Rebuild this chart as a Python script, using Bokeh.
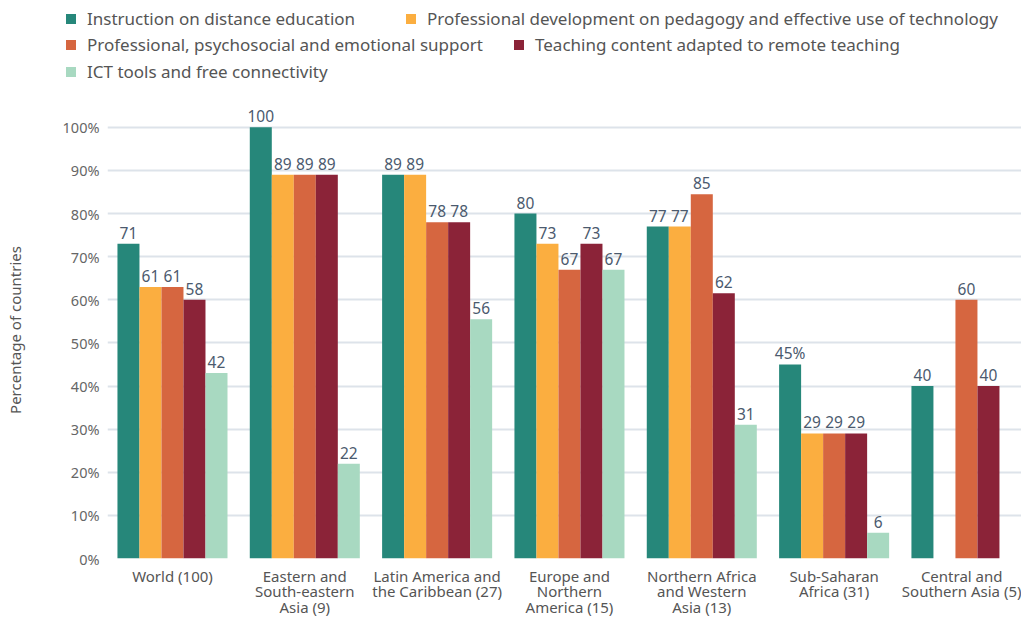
from bokeh.plotting import figure
from bokeh.models import (Range1d, FixedTicker, Legend, LegendItem, ColumnDataSource)
from bokeh.layouts import column
from bokeh.embed import file_html
from bokeh.resources import INLINE
from bokeh.core.properties import value
import numpy as np

# ---------------- data ----------------
regions = ["World (100)", "Eastern and\nSouth-eastern\nAsia (9)", "Latin America and\nthe Caribbean (27)",
           "Europe and\nNorthern\nAmerica (15)", "Northern Africa\nand Western\nAsia (13)",
           "Sub-Saharan\nAfrica (31)", "Central and\nSouthern Asia (5)"]
series_names = ["Instruction on distance education",
                "Professional development on pedagogy and effective use of technology",
                "Professional, psychosocial and emotional support",
                "Teaching content adapted to remote teaching",
                "ICT tools and free connectivity"]
colors = ["#26877a", "#fbae40", "#d66640", "#8b2338", "#a8d9c1"]

# bar heights (percent) as drawn
instruction = [73, 100, 89, 80, 77, 45, 40]
prof_dev = [63, 89, 89, 73, 77, 29, np.nan]
psycho = [63, 89, 78, 67, 84.5, 29, 60]
content = [60, 89, 78, 73, 61.5, 29, 40]
ict = [43, 22, 55.5, 67, 31, 6, np.nan]

# printed data labels
instruction_lbl = ["71", "100", "89", "80", "77", "45%", "40"]
prof_dev_lbl = ["61", "89", "89", "73", "77", "29", ""]
psycho_lbl = ["61", "89", "78", "67", "85", "29", "60"]
content_lbl = ["58", "89", "78", "73", "62", "29", "40"]
ict_lbl = ["42", "22", "56", "67", "31", "6", ""]

y_ticks = [0, 10, 20, 30, 40, 50, 60, 70, 80, 90, 100]
y_tick_labels = [f"{t}%" for t in y_ticks]

values = [instruction, prof_dev, psycho, content, ict]
labels = [instruction_lbl, prof_dev_lbl, psycho_lbl, content_lbl, ict_lbl]

FONT = "Noto Sans"

# ---------------- chart ----------------
p = figure(width=1021, height=518, output_backend="svg", toolbar_location=None,
           x_range=Range1d(-0.491, 6.416), y_range=Range1d(0, 106),
           min_border_left=107, min_border_right=0, min_border_top=0, min_border_bottom=60)
p.outline_line_color = None
p.background_fill_color = "white"
p.border_fill_color = "white"

# ---------------- legend strip ----------------
leg = figure(width=1021, height=101, output_backend="svg", toolbar_location=None,
             x_axis_location=None, y_axis_location=None,
             x_range=Range1d(0, 1), y_range=Range1d(0, 1),
             min_border_left=0, min_border_right=0, min_border_top=0, min_border_bottom=0)
leg.outline_line_color = None
leg.xgrid.visible = False
leg.ygrid.visible = False

x0 = 58
if "frame_align" in leg.properties():
    leg.frame_align = False
    p.frame_align = False
else:
    x0 = 58 - 107

# legend swatches: one (non-plotted) point per series, used only for the key
leg_r = [leg.scatter(x=[np.nan], y=[np.nan], marker="square", size=10,
                     fill_color=c, line_color=None) for c in colors]

rows = [[0, 1], [2, 3], [4]]
row_y = [70, 44, 17]
row_label_width = [311, 419, 20]
for row, ry, lw in zip(rows, row_y, row_label_width):
    lg = Legend(items=[LegendItem(label=series_names[k], renderers=[leg_r[k]]) for k in row],
                location=(x0, ry), orientation="horizontal",
                glyph_width=25, glyph_height=25, label_height=20, label_width=lw,
                label_standoff=4, padding=0, margin=0, spacing=0, border_line_alpha=0,
                background_fill_alpha=0, label_text_font=FONT,
                label_text_font_size="17px", label_text_color="#555555")
    leg.add_layout(lg, "center")

bar_w = 0.1663
offsets = [(k - 2) * bar_w for k in range(5)]
idx = np.arange(len(regions))

for k in range(5):
    src = ColumnDataSource(dict(x=idx + offsets[k], top=values[k], lbl=labels[k]))
    p.vbar(x="x", top="top", bottom=0, width=bar_w, source=src,
           fill_color=colors[k], line_color=None)
    p.text(x="x", y="top", text="lbl", source=src, text_align="center",
           text_baseline="middle", y_offset=-11, text_font=value(FONT),
           text_font_size="15.5px", text_color="#4b5a6e")

# y axis
p.yaxis.ticker = FixedTicker(ticks=y_ticks)
p.yaxis.major_label_overrides = {t: l for t, l in zip(y_ticks, y_tick_labels)}
p.yaxis.axis_label = "Percentage of countries"
p.yaxis.axis_label_text_font = FONT
p.yaxis.axis_label_text_font_style = "normal"
p.yaxis.axis_label_text_font_size = "15px"
p.yaxis.axis_label_text_color = "#555555"
p.yaxis.axis_label_standoff = 35
p.yaxis.major_label_text_font = FONT
p.yaxis.major_label_text_font_size = "14.5px"
p.yaxis.major_label_text_color = "#666666"
p.yaxis.major_label_standoff = 8
p.yaxis.major_tick_out = 0
p.yaxis.major_tick_in = 0
p.yaxis.axis_line_color = None
p.yaxis.major_tick_line_color = None
p.yaxis.minor_tick_line_color = None

# x axis with category names
p.xaxis.ticker = FixedTicker(ticks=list(range(len(regions))))
p.xaxis.major_label_overrides = {i: r for i, r in enumerate(regions)}
p.xaxis.major_label_text_font = FONT
p.xaxis.major_label_text_font_size = "15px"
p.xaxis.major_label_text_color = "#555555"
p.xaxis.major_label_text_line_height = 0.78
p.xaxis.major_label_standoff = 7
p.xaxis.major_tick_out = 0
p.xaxis.major_tick_in = 0
p.xaxis.axis_line_color = None
p.xaxis.major_tick_line_color = None
p.xaxis.minor_tick_line_color = None

p.xgrid.grid_line_color = None
p.ygrid.ticker = FixedTicker(ticks=y_ticks)
p.ygrid.grid_line_color = "#dde3ea"
p.ygrid.grid_line_width = 2

layout = column(leg, p, spacing=0)
open("out.html", "w").write(file_html(layout, INLINE))
